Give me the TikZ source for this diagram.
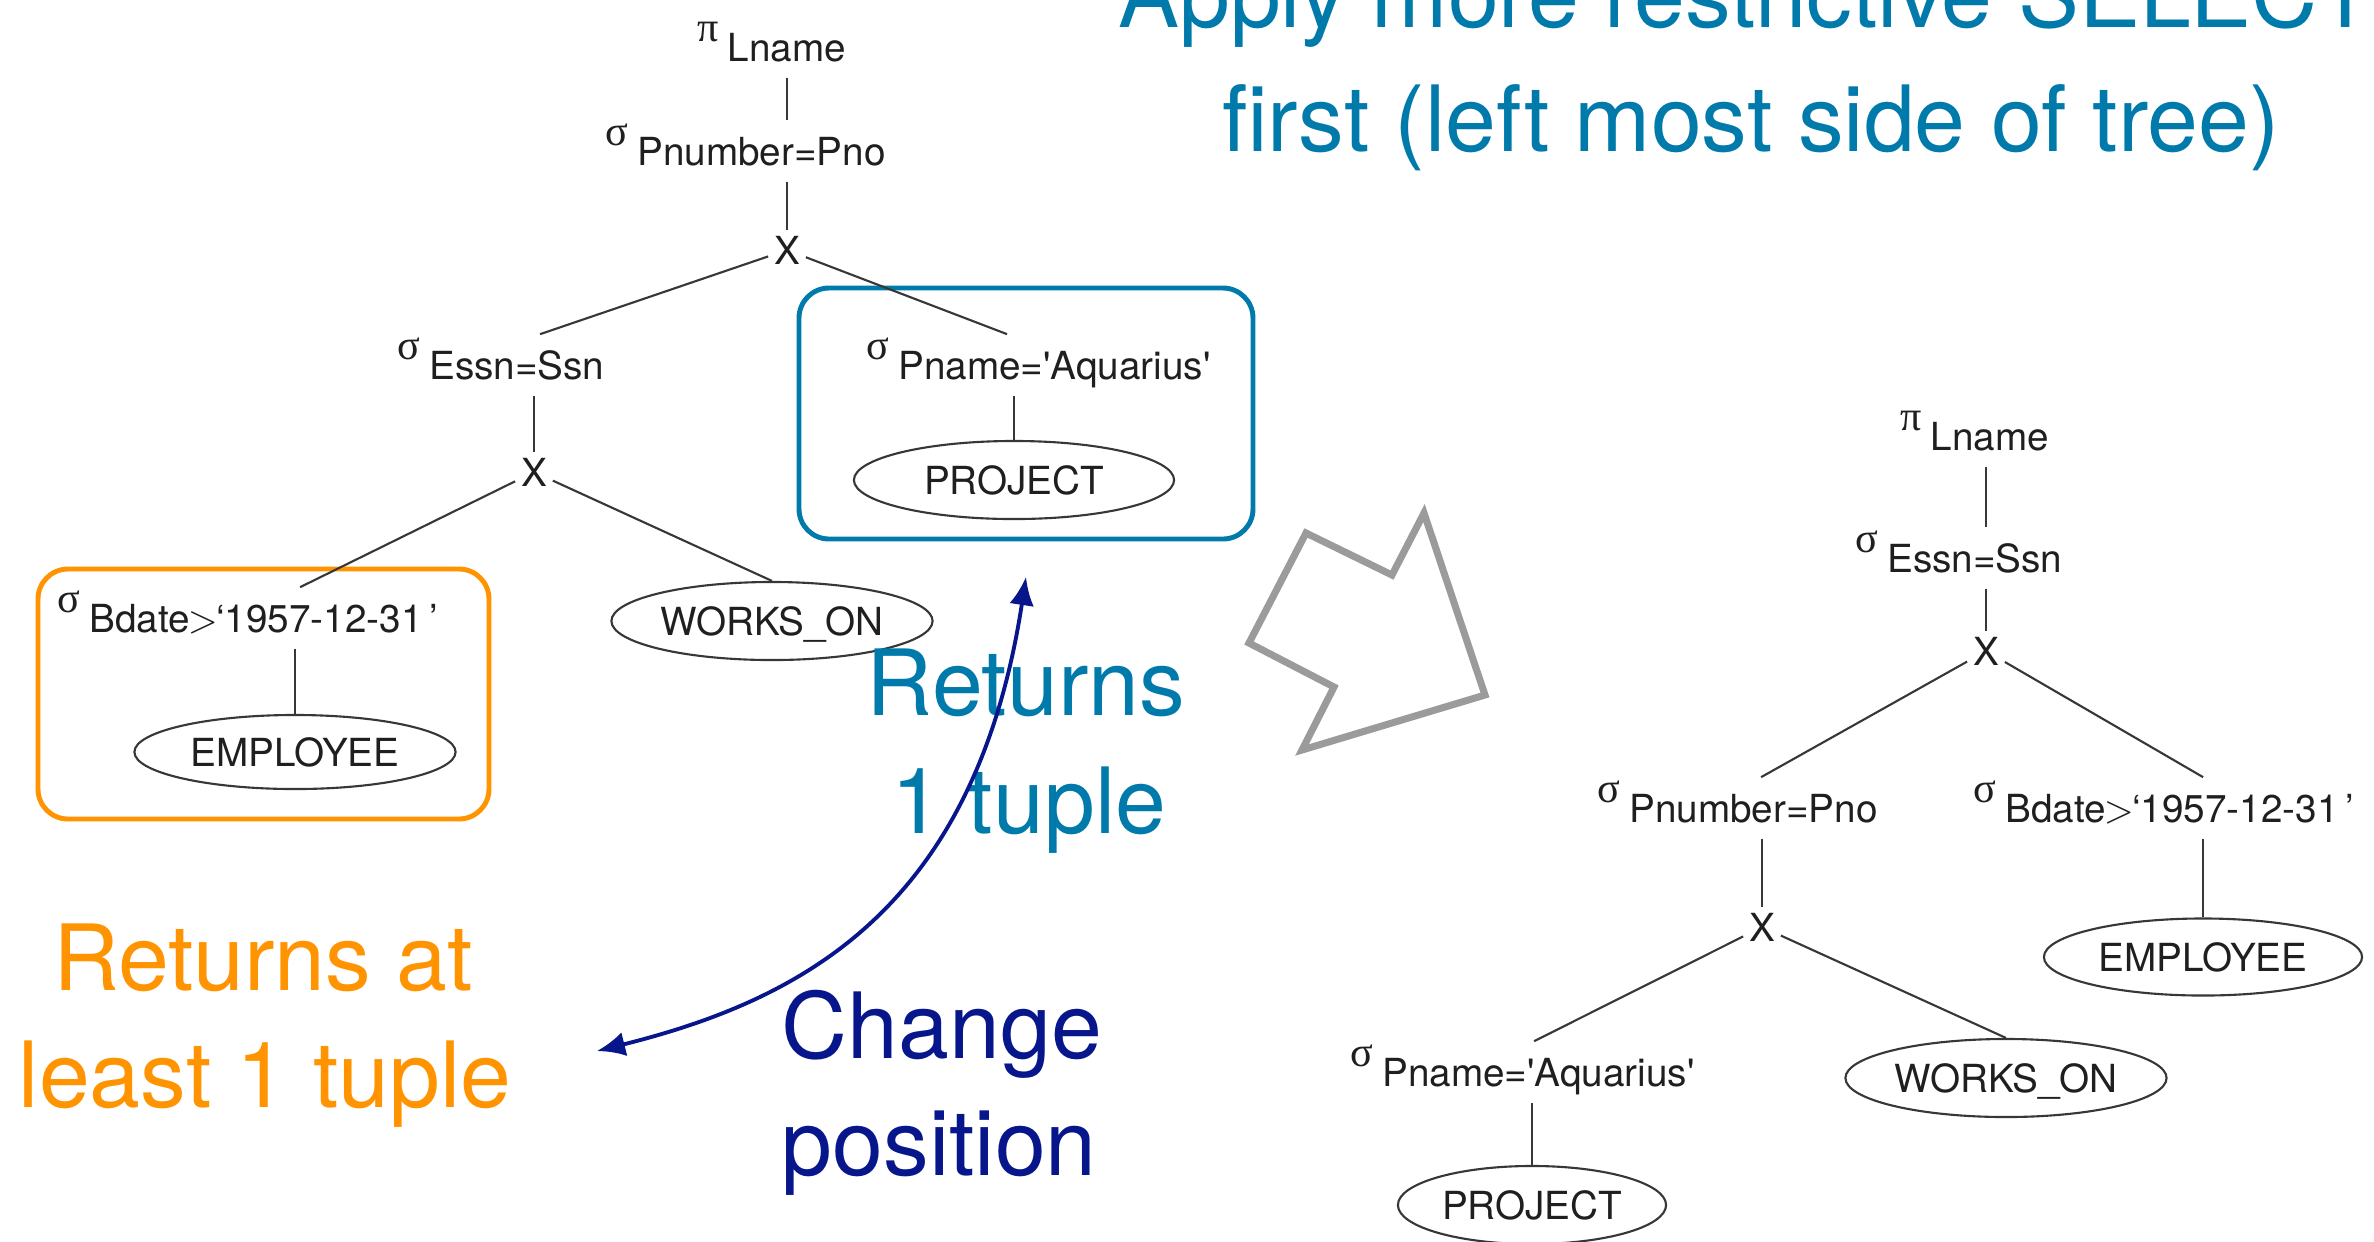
\documentclass[tikz,border=0pt]{standalone}
\usepackage{fontspec}
\setmainfont{TeX Gyre Heros}
\newfontfamily\greekfont{Liberation Serif}
\usetikzlibrary{shapes.geometric,arrows.meta}
\definecolor{kblue}{RGB}{0,122,170}
\definecolor{korange}{RGB}{255,147,0}
\definecolor{knavy}{RGB}{8,22,140}
\definecolor{kgray}{RGB}{155,155,155}
\definecolor{tline}{RGB}{55,55,55}
\newcommand{\sigop}{\raisebox{5.5pt}[0pt][0pt]{\greekfont\fontsize{12}{12}\selectfont σ}\hspace{2.5pt}}
\newcommand{\piop}{\raisebox{5.5pt}[0pt][0pt]{\greekfont\fontsize{12}{12}\selectfont π}\hspace{2.5pt}}
\newcommand{\gtsym}{\kern-0.5pt$>$\kern-0.5pt}
\begin{document}
\begin{tikzpicture}[x=0.01cm,y=-0.01cm,
  opnode/.style={font=\fontsize{11}{13}\selectfont, text=black!88, inner xsep=0pt, inner ysep=0.16cm, text height=8pt, text depth=0pt, anchor=base west},
  xnode/.style={font=\fontsize{11}{13}\selectfont, text=black!88, inner sep=1.5pt, text height=8pt, text depth=0pt},
  relnode/.style={draw=tline, line width=0.6pt, ellipse, inner sep=0pt, text=black!88, font=\fontsize{11}{13}\selectfont, text height=8pt, text depth=0pt, minimum height=0.78cm},
  tedge/.style={draw=tline, line width=0.6pt},
  bigtext/.style={font=\fontsize{26}{33}\selectfont, inner sep=0pt, anchor=base},
  hlbox/.style={line width=1.4pt, rounded corners=0.3cm},
]
\useasboundingbox (0,0) rectangle (2374,1241);
\fill[white] (0,0) rectangle (2374,1241);
\clip (0,0) rectangle (2374,1241);

% ---------- highlight boxes ----------
\draw[hlbox, korange] (38,569) rectangle (489,819);
\draw[hlbox, kblue] (799,288) rectangle (1253,539);

% ---------- left tree ----------
\node[opnode] (pi1) at (697,61) {\piop Lname};
\node[opnode] (sPnum1) at (605,165) {\sigop Pnumber=Pno};
\node[xnode] (X1) at (787,250) {X};
\node[opnode] (sEssn1) at (397,379) {\sigop Essn=Ssn};
\node[opnode] (sPname1) at (866,379) {\sigop Pname=\textquotesingle Aquarius\textquotesingle};
\node[xnode] (X2) at (534,472) {X};
\node[opnode] (sBdate1) at (57,632) {\sigop Bdate\gtsym`1957-12-31\,'};
\node[relnode, minimum width=3.21cm] (works1) at (772,621) {WORKS\_ON};
\node[relnode, minimum width=3.21cm, minimum height=0.74cm] (emp1) at (295,752) {EMPLOYEE};
\node[relnode, minimum width=3.2cm] (proj1) at (1014,480) {PROJECT};

\draw[tedge] (pi1.south -| X1) -- (sPnum1.north -| X1);
\draw[tedge] (sPnum1.south -| X1) -- (X1);
\draw[tedge] (X1) -- ([xshift=1.43cm]sEssn1.north west);
\draw[tedge] (X1) -- ([xshift=1.41cm]sPname1.north west);
\draw[tedge] (sEssn1.south -| X2) -- (X2);
\draw[tedge] (X2) -- ([xshift=2.43cm]sBdate1.north west);
\draw[tedge] (X2) -- (works1.north);
\draw[tedge] (sBdate1.south -| emp1) -- (emp1.north);
\draw[tedge] (sPname1.south -| proj1) -- (proj1.north);

% ---------- right tree ----------
\node[opnode] (pi2) at (1900,450) {\piop Lname};
\node[opnode] (sEssn2) at (1855,572) {\sigop Essn=Ssn};
\node[xnode] (X3) at (1986,651) {X};
\node[opnode] (sPnum2) at (1597,822) {\sigop Pnumber=Pno};
\node[opnode] (sBdate2) at (1973,822) {\sigop Bdate\gtsym`1957-12-31\,'};
\node[xnode] (X4) at (1762,927) {X};
\node[relnode, minimum width=3.18cm, minimum height=0.77cm] (emp2) at (2203,957) {EMPLOYEE};
\node[opnode] (sPname2) at (1350,1086) {\sigop Pname=\textquotesingle Aquarius\textquotesingle};
\node[relnode, minimum width=3.21cm] (works2) at (2006,1078) {WORKS\_ON};
\node[relnode, minimum width=2.68cm] (proj2) at (1532,1205) {PROJECT};

\draw[tedge] (pi2.south -| X3) -- (sEssn2.north -| X3);
\draw[tedge] (sEssn2.south -| X3) -- (X3);
\draw[tedge] (X3) -- ([xshift=1.64cm]sPnum2.north west);
\draw[tedge] (X3) -- ([xshift=2.30cm]sBdate2.north west);
\draw[tedge] (sPnum2.south -| X4) -- (X4);
\draw[tedge] (sBdate2.south -| emp2) -- (emp2.north);
\draw[tedge] (X4) -- ([xshift=1.84cm]sPname2.north west);
\draw[tedge] (X4) -- (works2.north);
\draw[tedge] (sPname2.south -| proj2) -- (proj2.north);

% ---------- big gray arrow ----------
\draw[kgray, line width=2pt, line join=miter]
  (1306,533) -- (1392,575) -- (1424,513) -- (1485,695) -- (1302,750) -- (1334,687) -- (1249,643) -- cycle;

% ---------- texts ----------
\node[bigtext, kblue] (t1) at (1746,27) {Apply more restrictive SELECT};
\node[bigtext, kblue] (t2) at (1751,151) {first (left most side of tree)};
\node[bigtext, kblue] (r1) at (1026,715) {Returns};
\node[bigtext, kblue] (r2) at (1029,833) {1 tuple};
\node[bigtext, korange] (o1) at (263,990) {Returns at};
\node[bigtext, korange] (o2) at (265,1107) {least 1 tuple};
\node[bigtext, knavy, anchor=base west] (c1) at (781,1058) {Change};
\node[bigtext, knavy, anchor=base west] (c2) at (781,1175) {position};

% ---------- change-position arrow ----------
\coordinate (atop) at (1026,577);
\coordinate (abot) at (597,1051);
\draw[knavy, line width=1.1pt, {Latex[length=8pt,width=7pt]}-{Latex[length=8pt,width=7pt]}]
  (atop) .. controls (975,910) and (801,1000) .. (abot);
\end{tikzpicture}
\end{document}
